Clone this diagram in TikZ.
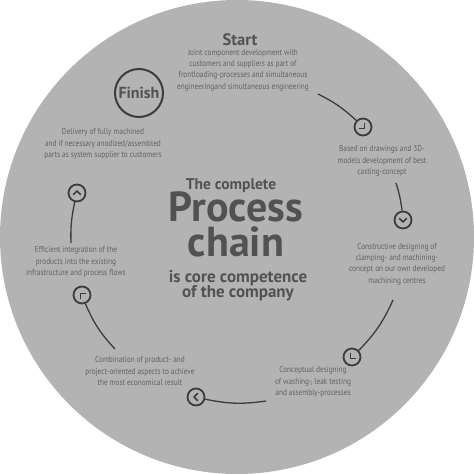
\documentclass[tikz,border=0pt]{standalone}
\usepackage{fontspec}
\setmainfont{PT Sans}
\newfontfamily\condf{PT Sans}[FakeStretch=0.85]
\definecolor{disc}{HTML}{B3B3B3}
\definecolor{ink}{HTML}{3C3C3C}
\definecolor{txt}{HTML}{626262}
\definecolor{ttl}{HTML}{525252}
\tikzset{
  desc/.style={align=center, text=txt, font=\condf\fontsize{8.6}{11.3}\selectfont, inner sep=0pt},
  ttlx/.style={text=ttl, font=\bfseries\fontsize{#1}{#1}\selectfont, inner sep=0pt, anchor=base, text depth=0pt},
  icon/.style={circle, draw=ink, line width=1.8pt, minimum size=17pt, inner sep=0pt},
  link/.style={draw=ink, line width=1.3pt},
  chev/.pic={\draw[ink, line width=1.6pt, line cap=round, line join=round] (-1.5,3.5) -- (2,0) -- (-1.5,-3.5);}
}
\begin{document}
\begin{tikzpicture}[x=1pt,y=1pt]
\useasboundingbox (0,0) rectangle (474,474);
\fill[disc] (237,237) circle (237);

% titles
\node[ttlx=16.5] (start) at (240,428) {Start};
\node[circle, draw=ink, line width=2pt, minimum size=48pt, inner sep=0pt, text=ttl, font=\bfseries\fontsize{16}{16}\selectfont] (fin) at (139,381) {Finish};

\node[ttlx=15.5] (t1) at (231,284) {The complete};
\node[ttlx=42] (t2) at (236,252) {Process};
\node[ttlx=42, text height=28pt] (t3) at (236,217) {chain};
\node[ttlx=17] (t4) at (238,191) {is core competence};
\node[ttlx=17, text height=11pt] (t5) at (238,176) {of the company};

% descriptions
\node[desc] (d0) at (243,404) {Joint component development with\\customers and suppliers as part of\\frontloading-processes and simultaneous\\engineeringand simultaneous engineering};
\node[desc] (d1) at (382,313) {Based on drawings and 3D-\\models development of best\\casting-concept};
\node[desc] (d2) at (397,210) {Constructive designing of\\clamping- and machining-\\concept on our own developed\\machining centres};
\node[desc] (d3) at (313,92) {Conceptual designing\\of washing-, leak testing\\and assembly-processes};
\node[desc] (d4) at (140,103) {Combination of product- and\\project-oriented aspects to achieve\\the most economical result};
\node[desc] (d5) at (76,212) {Efficient integration of the\\products into the existing\\infrastructure and process flows};
\node[desc] (d6) at (103,330) {Delivery of fully machined\\and if necessary anodized/assembled\\parts as system supplier to customers};

% icons
\node[icon] (i1) at (363,347) {};
\node[icon] (i2) at (403,254) {};
\node[icon] (i3) at (352,117) {};
\node[icon] (i4) at (196,77) {};
\node[icon] (i5) at (82,179) {};
\node[icon] (i6) at (77,281) {};
\pic[rotate=-45] at (i1) {chev};
\pic[rotate=-90] at (i2) {chev};
\pic[rotate=-135] at (i3) {chev};
\pic[rotate=180] at (i4) {chev};
\pic[rotate=135] at (i5) {chev};
\pic[rotate=90] at (i6) {chev};

% arc starts
\coordinate (s1) at (318,380);
\coordinate (s2) at (396,291);
\coordinate (s3) at (393,174);
\coordinate (s4) at (266,73);
\coordinate (s5) at (115,125);
\coordinate (s6) at (71,231);

\draw[link] (s1) to[bend left=8] (i1);
\draw[link] (s2) to[bend left=5] (i2);
\draw[link] (s3) to[bend left=10] (i3);
\draw[link] (s4) to[bend left=10] (i4);
\draw[link] (s5) to[bend left=10] (i5);
\draw[link] (s6) to[bend left=7] (i6);
\end{tikzpicture}
\end{document}
